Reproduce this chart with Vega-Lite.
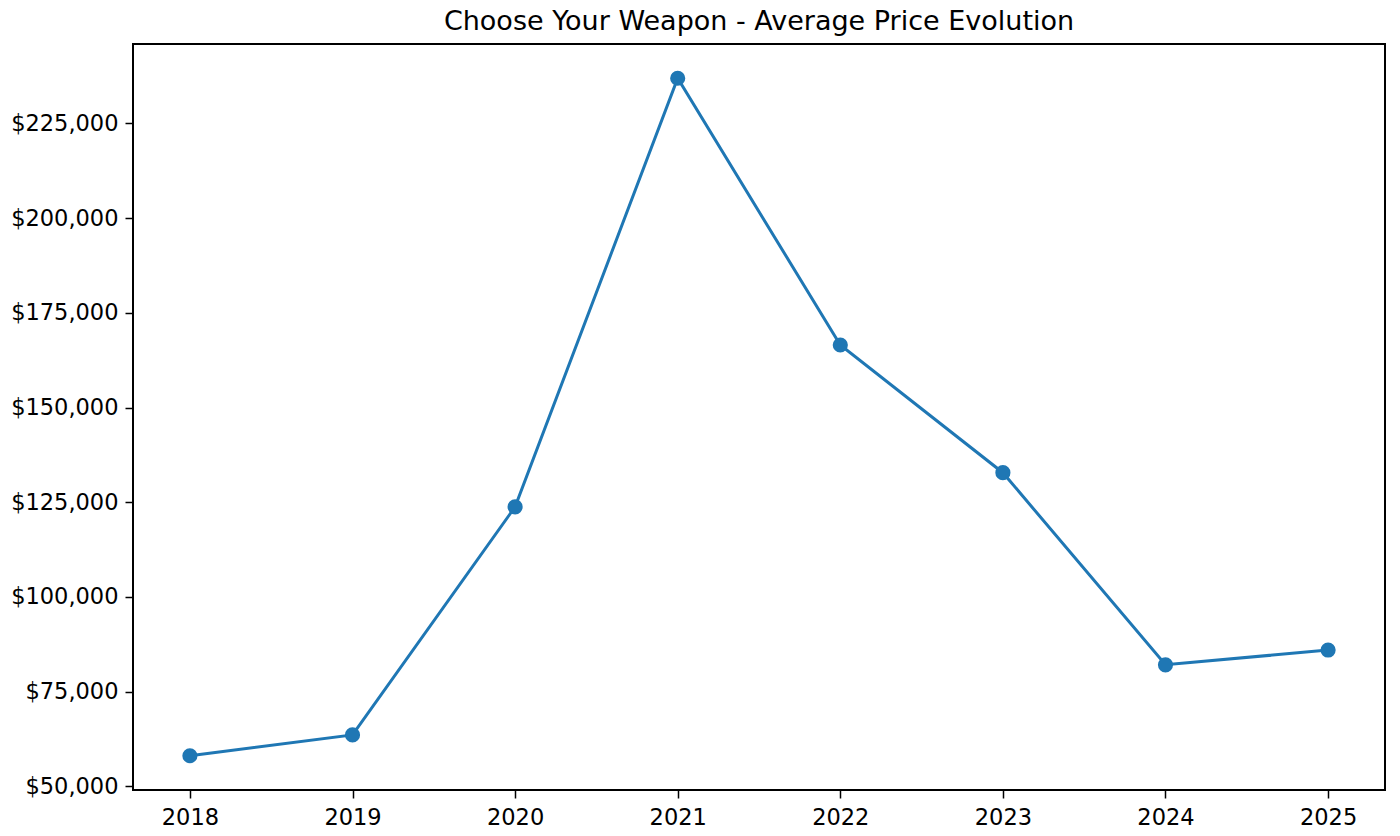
{
  "$schema": "https://vega.github.io/schema/vega-lite/v6.json",
  "width": 1252,
  "height": 746,
  "autosize": "none",
  "padding": {"left": 133, "top": 44, "right": 15, "bottom": 46},
  "background": "white",
  "title": {
    "text": "Choose Your Weapon - Average Price Evolution",
    "font": "DejaVu Sans",
    "fontSize": 27,
    "fontWeight": "normal",
    "color": "black",
    "anchor": "middle",
    "offset": 8
  },
  "config": {
    "view": {"stroke": "black", "strokeWidth": 2},
    "axis": {
      "labelFont": "DejaVu Sans",
      "labelFontSize": 22.5,
      "labelColor": "black",
      "tickColor": "black",
      "tickSize": 8,
      "tickWidth": 1.5,
      "domain": false,
      "grid": false,
      "title": null
    }
  },
  "data": {
    "values": [
      {"year": 2018, "price": 58100},
      {"year": 2019, "price": 63600},
      {"year": 2020, "price": 123800},
      {"year": 2021, "price": 236900},
      {"year": 2022, "price": 166500},
      {"year": 2023, "price": 132800},
      {"year": 2024, "price": 82100},
      {"year": 2025, "price": 86000}
    ]
  },
  "encoding": {
    "x": {
      "field": "year",
      "type": "quantitative",
      "scale": {"domain": [2017.65, 2025.35], "nice": false, "zero": false},
      "axis": {
        "values": [2018, 2019, 2020, 2021, 2022, 2023, 2024, 2025],
        "format": "d",
        "labelPadding": 8
      }
    },
    "y": {
      "field": "price",
      "type": "quantitative",
      "scale": {"domain": [49060, 245940], "nice": false, "zero": false},
      "axis": {
        "values": [50000, 75000, 100000, 125000, 150000, 175000, 200000, 225000],
        "format": "$,.0f",
        "labelPadding": 7
      }
    }
  },
  "layer": [
    {"mark": {"type": "line", "color": "#1f77b4", "strokeWidth": 3}},
    {"mark": {"type": "point", "filled": true, "opacity": 1, "color": "#1f77b4", "size": 230}}
  ]
}
